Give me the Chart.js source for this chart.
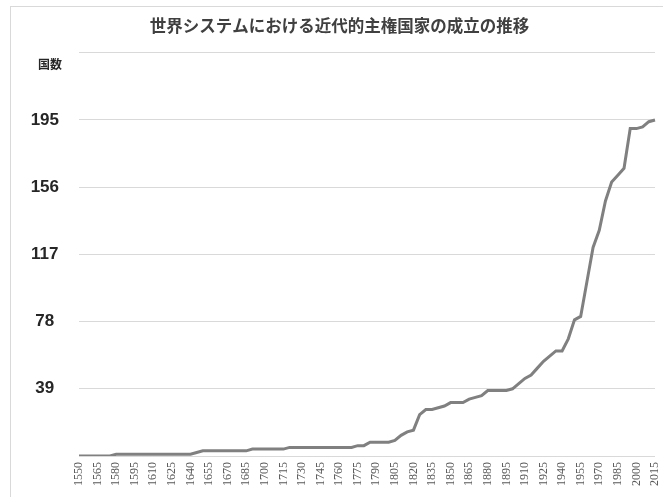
<!DOCTYPE html>
<html><head><meta charset="utf-8">
<script src="https://cdn.jsdelivr.net/npm/chart.js@4.4.0/dist/chart.umd.min.js"></script>
<style>
html,body{margin:0;padding:0;background:#fff;overflow:hidden;}
#frame{position:absolute;left:10px;top:6px;width:700px;height:520px;border:1px solid #d9d9d9;box-sizing:border-box;}
#wrap{position:absolute;left:0;top:0;width:663px;height:497px;}
</style></head><body>
<div id="frame"></div>
<div id="wrap"><canvas id="c" width="663" height="497"></canvas></div>
<script>
const chartTitle = '世界システムにおける近代的主権国家の成立の推移';
const yAxisLabel = '国数';
const years = [1550,1555,1560,1565,1570,1575,1580,1585,1590,1595,1600,1605,1610,1615,1620,1625,1630,1635,1640,1645,
1650,1655,1660,1665,1670,1675,1680,1685,1690,1695,1700,1705,1710,1715,1720,1725,1730,1735,1740,1745,
1750,1755,1760,1765,1770,1775,1780,1785,1790,1795,1800,1805,1810,1815,1820,1825,1830,1835,1840,1845,
1850,1855,1860,1865,1870,1875,1880,1885,1890,1895,1900,1905,1910,1915,1920,1925,1930,1935,1940,1945,
1950,1955,1960,1965,1970,1975,1980,1985,1990,1995,2000,2005,2010,2015];
const stateCounts = [0,0,0,0,0,0,1,1,1,1,1,1,1,1,1,1,1,1,1,2,
3,3,3,3,3,3,3,3,4,4,4,4,4,4,5,5,5,5,5,5,
5,5,5,5,5,6,6,8,8,8,8,9,12,14,15,24,27,27,28,29,
31,31,31,33,34,35,38,38,38,38,39,42,45,47,51,55,58,61,61,68,
79,81,101,121,131,148,159,163,167,190,190,191,194,195];
const xTickLabels = ['1550','1565','1580','1595','1610','1625','1640','1655','1670','1685','1700','1715','1730','1745','1760','1775',
'1790','1805','1820','1835','1850','1865','1880','1895','1910','1925','1940','1955','1970','1985','2000','2015'];
const yTickValues = [0,39,78,117,156,195,234];
const yTickLabels = ['','39','78','117','156','195',''];

const axisLabelPlugin = {
  id: 'axisLabel',
  afterDraw(chart) {
    const ctx = chart.ctx;
    const ys = chart.scales.y;
    ctx.save();
    ctx.font = 'bold 12px "Noto Sans CJK JP"';
    ctx.fillStyle = '#262626';
    ctx.textAlign = 'center';
    ctx.textBaseline = 'middle';
    ctx.fillText(yAxisLabel, 50, ys.getPixelForValue(234) + 12);
    ctx.restore();
  }
};

new Chart(document.getElementById('c'), {
  type: 'line',
  data: {
    labels: years.map(String),
    datasets: [{
      data: stateCounts,
      borderColor: '#808080',
      borderWidth: 3,
      pointRadius: 0,
      tension: 0,
      fill: false
    }]
  },
  options: {
    responsive: false,
    animation: false,
    devicePixelRatio: 1,
    layout: { padding: { left: 24, right: 8, top: 0, bottom: 0 } },
    plugins: {
      legend: { display: false },
      tooltip: { enabled: false },
      title: {
        display: true,
        text: chartTitle,
        color: '#404040',
        font: { family: '"Noto Sans CJK JP"', size: 16.5, weight: 'bold' },
        padding: { top: 16, bottom: 17 }
      }
    },
    scales: {
      x: {
        type: 'category',
        offset: false,
        grid: { display: false, drawTicks: false },
        border: { display: false },
        ticks: {
          autoSkip: false,
          minRotation: 90,
          maxRotation: 90,
          padding: 6,
          color: '#595959',
          font: { family: '"Liberation Serif"', size: 12 },
          callback: function(v, i) {
            const lab = String(years[i]);
            return xTickLabels.includes(lab) ? lab : '';
          }
        },
        afterFit: s => { s.height = 41; s.paddingLeft = 0; s.paddingRight = 0; }
      },
      y: {
        min: 0, max: 234,
        border: { display: false },
        grid: { color: '#d9d9d9', lineWidth: 1, drawTicks: false },
        afterBuildTicks: s => { s.ticks = yTickValues.map(v => ({ value: v })); },
        ticks: {
          autoSkip: false,
          padding: 20,
          crossAlign: 'center',
          color: '#262626',
          font: { family: '"Liberation Sans Narrow", "Liberation Sans", sans-serif', size: 17, weight: 'bold' },
          callback: function(v) {
            const k = yTickValues.indexOf(v);
            return k >= 0 ? yTickLabels[k] : '';
          }
        },
        afterFit: s => { s.width = 55; s.paddingTop = 0; s.paddingBottom = 0; }
      }
    }
  },
  plugins: [axisLabelPlugin]
});
</script>
</body></html>
